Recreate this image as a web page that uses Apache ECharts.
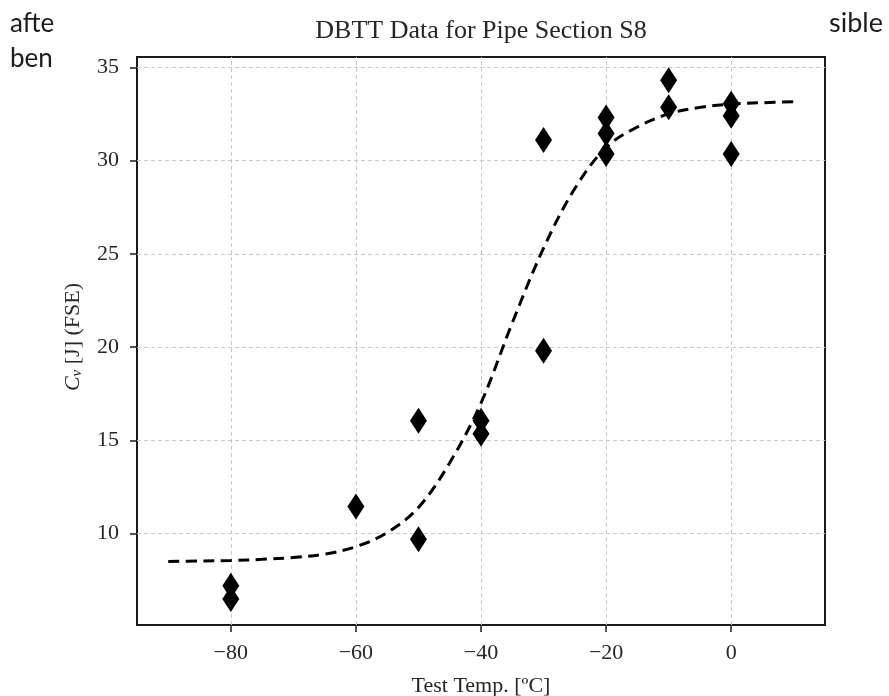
<!DOCTYPE html>
<html>
<head>
<meta charset="utf-8">
<title>DBTT Data for Pipe Section S8</title>
<script src="https://cdn.jsdelivr.net/npm/echarts@6/dist/echarts.min.js"></script>
<style>
  html, body { margin: 0; padding: 0; background: #ffffff; }
  #chart { width: 889px; height: 696px; }
</style>
</head>
<body>
<div id="chart"></div>
<script>
// Charpy test results: temperature [°C] and absorbed energy [J]
const testTemps = [-80, -80, -60, -50, -50, -40, -40, -30, -30, -20, -20, -20, -10, -10, 0, 0, 0];
const energies  = [7.2, 6.5, 11.45, 16.05, 9.7, 16.05, 15.35, 31.1, 19.8, 32.3, 31.45, 30.35, 34.3, 32.85, 33.05, 32.4, 30.35];

// Fitted transition curve, sampled every 5 °C
const fitTemps  = [-90, -85, -80, -75, -70, -65, -60, -55, -50, -45, -40, -35, -30, -25, -20, -15, -10, -5, 0, 5, 10];
const fitEnergy = [8.51, 8.53, 8.56, 8.62, 8.72, 8.9, 9.3, 10.05, 11.4, 13.8, 17.0, 21.3, 25.3, 28.5, 30.7, 31.8, 32.5, 32.85, 33.02, 33.1, 33.15];

// Tick positions
const xTicks = [-80, -60, -40, -20, 0];
const yTicks = [10, 15, 20, 25, 30, 35];

const serif = '"Liberation Serif", "DejaVu Serif", serif';
const sans = 'Lato, "Open Sans", sans-serif';
const textColor = '#262626';
const minus = v => String(v).replace('-', '\u2212');

const chart = echarts.init(document.getElementById('chart'), null, { renderer: 'canvas' });

const gridLineStyle = { color: '#c9c9c9', width: 1, type: [4, 3] };
const tickStyle = { color: '#1a1a1a', width: 1.5 };

chart.setOption({
  backgroundColor: '#ffffff',
  animation: false,
  grid: {
    left: 137, right: 64, top: 57, bottom: 71,
    outerBoundsMode: 'none', containLabel: false,
    show: true, borderColor: '#1a1a1a', borderWidth: 2, backgroundColor: 'transparent'
  },
  xAxis: {
    type: 'value', min: -95, max: 15,
    axisLine: { show: false, onZero: false },
    splitLine: { show: false },
    axisTick: { show: true, customValues: xTicks, length: 7, inside: false, lineStyle: tickStyle },
    axisLabel: { customValues: xTicks, margin: 17, fontFamily: serif, fontSize: 22, color: textColor, formatter: minus },
    name: 'Test Temp. [ºC]', nameLocation: 'middle', nameGap: 50,
    nameTextStyle: { fontFamily: serif, fontSize: 22, color: textColor }
  },
  yAxis: {
    type: 'value', min: 5.1, max: 35.55,
    axisLine: { show: false, onZero: false },
    splitLine: { show: false },
    axisTick: { show: true, customValues: yTicks, length: 7, inside: false, lineStyle: tickStyle },
    axisLabel: { customValues: yTicks, margin: 18, fontFamily: serif, fontSize: 22, color: textColor, formatter: minus }
  },
  graphic: [
    { type: 'text', x: 481, y: 31, z: 100, silent: true,
      style: { text: 'DBTT Data for Pipe Section S8', fontFamily: serif, fontSize: 26, fill: textColor,
               align: 'center', verticalAlign: 'middle' } },
    { type: 'text', x: 73, y: 337, rotation: Math.PI / 2, z: 100, silent: true,
      style: {
        text: '{c|C}{v|v} [J] (FSE)', align: 'center', verticalAlign: 'middle',
        fontFamily: serif, fontSize: 22, fill: textColor,
        rich: {
          c: { fontFamily: serif, fontSize: 22, fontStyle: 'italic', fill: textColor },
          v: { fontFamily: serif, fontSize: 15, fontStyle: 'italic', fill: textColor, padding: [9, 0, 0, 0] }
        }
      } },
    // Fragments of surrounding page text
    { type: 'text', x: 10, y: 37, z: 100, silent: true,
      style: { text: 'afte', fontFamily: sans, fontSize: 26, fill: '#1c1c1c', verticalAlign: 'bottom' } },
    { type: 'text', x: 10, y: 72, z: 100, silent: true,
      style: { text: 'ben', fontFamily: sans, fontSize: 26, fill: '#1c1c1c', verticalAlign: 'bottom' } },
    { type: 'text', x: 829, y: 37, z: 100, silent: true,
      style: { text: 'sible', fontFamily: sans, fontSize: 27, fill: '#1c1c1c', verticalAlign: 'bottom' } }
  ],
  series: [
    {
      // dashed grid drawn at the tick positions
      type: 'line', data: [], z: 0, silent: true,
      markLine: {
        silent: true, symbol: 'none', animation: false, z: 0,
        label: { show: false },
        lineStyle: gridLineStyle,
        data: xTicks.map(v => ({ xAxis: v })).concat(yTicks.map(v => ({ yAxis: v })))
      }
    },
    {
      name: 'fit', type: 'line', z: 3, smooth: 0.35,
      data: fitTemps.map((t, i) => [t, fitEnergy[i]]),
      showSymbol: false, silent: true,
      lineStyle: { color: '#000000', width: 3, type: [11, 6.5] }
    },
    {
      name: 'tests', type: 'scatter', z: 4, large: false,
      data: testTemps.map((t, i) => [t, energies[i]]),
      symbol: 'diamond', symbolSize: [17, 26],
      itemStyle: { color: '#000000', opacity: 1, borderWidth: 0 }
    }
  ]
});
</script>
</body>
</html>
